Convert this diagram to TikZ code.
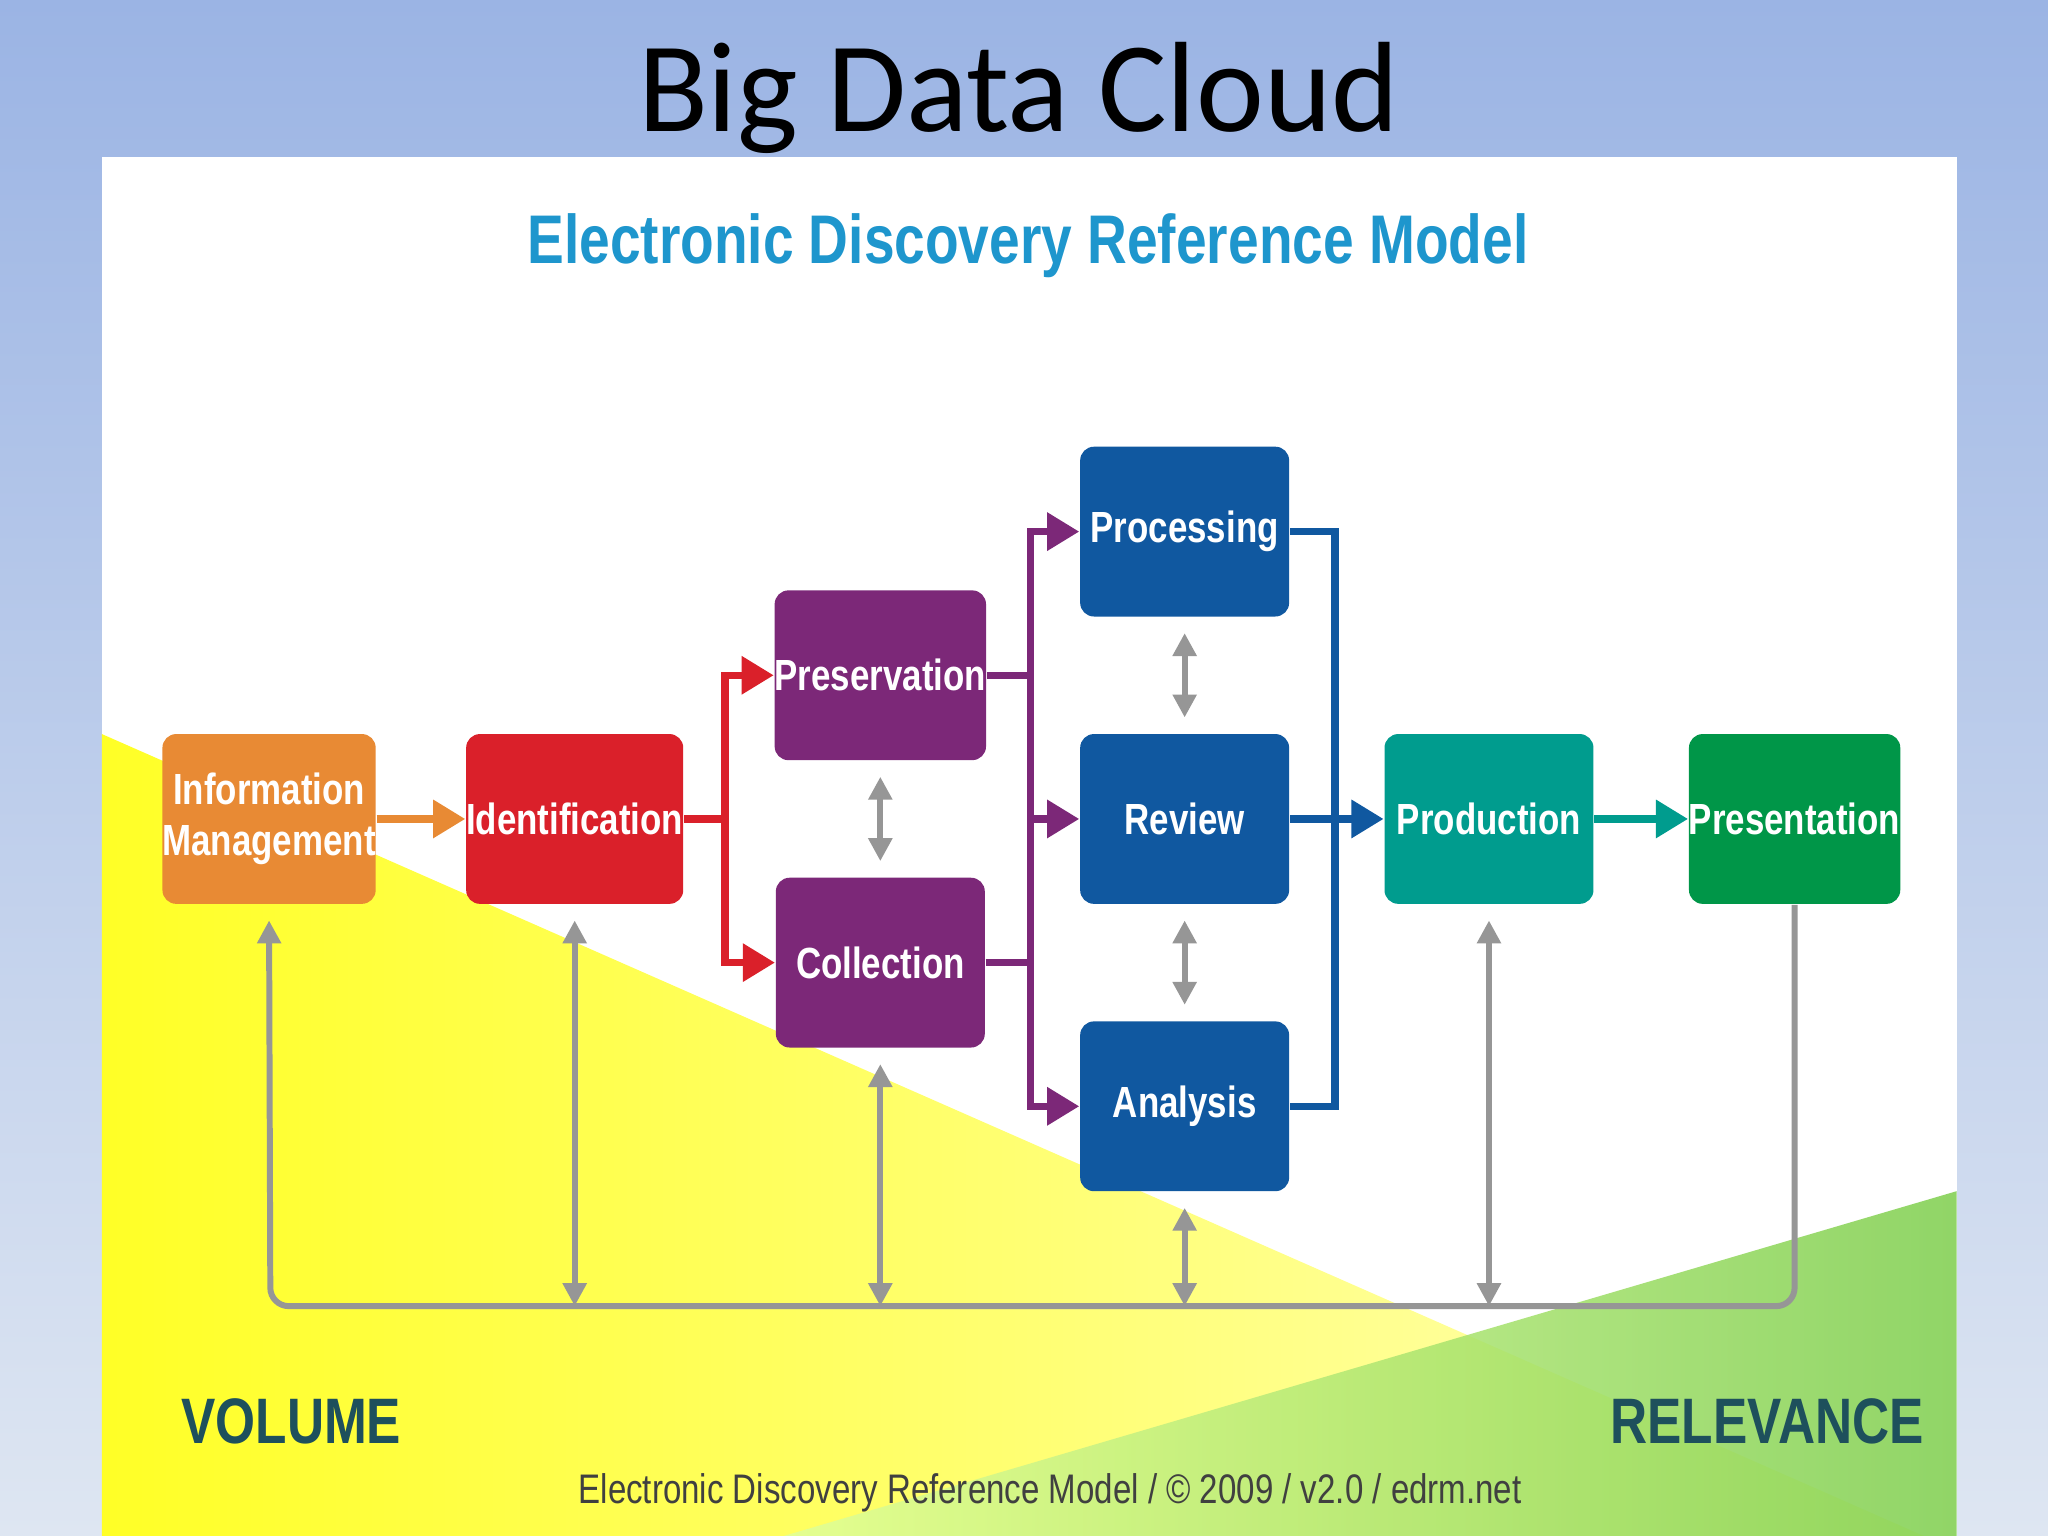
\documentclass[tikz,border=0pt]{standalone}
\usepackage{fontspec}
\setmainfont{Liberation Sans}
\newfontfamily\cond[FakeStretch=0.8]{Liberation Sans}
\newfontfamily\calib{Carlito}
\usetikzlibrary{arrows.meta}
\definecolor{bgtop}{RGB}{155,180,228}
\definecolor{bgbot}{RGB}{222,230,242}
\definecolor{cOr}{RGB}{232,138,52}
\definecolor{cRd}{RGB}{218,32,42}
\definecolor{cPu}{RGB}{124,40,120}
\definecolor{cBl}{RGB}{16,88,160}
\definecolor{cTe}{RGB}{0,156,142}
\definecolor{cGn}{RGB}{0,150,72}
\definecolor{cTitle}{RGB}{30,150,205}
\definecolor{cDark}{RGB}{30,80,92}
\definecolor{cGr}{RGB}{150,150,150}
\begin{document}
\begin{tikzpicture}[x=0.1mm,y=-0.1mm,
  box/.style={rounded corners=3pt,minimum width=16mm,minimum height=13mm,inner sep=0pt,
     text=white,font=\cond\bfseries\fontsize{9.5}{11}\selectfont,align=center},
  fl/.style={line width=1.6pt,-{Triangle[length=7pt,width=8pt]}},
  gl/.style={line width=1.3pt,cGr},
  ga/.style={gl,{Triangle[length=5pt,width=5pt]}-{Triangle[length=5pt,width=5pt]}}]
\useasboundingbox (0,0) rectangle (1568,1176);
\shade[top color=bgtop,bottom color=bgbot] (0,0) rectangle (1568,1176);
\fill[white] (78,120) rectangle (1498,1176);
\shade[left color=yellow!85!white,right color=yellow!25!white] (78,562) -- (1498,1187) -- (1498,1176) -- (78,1176) -- cycle;
\shade[left color=yellow!70!green!40!white,right color=green!45!olive!70!white,opacity=0.85] (1498,912) -- (1498,1176) -- (600,1176) -- cycle;
\node[font=\calib\fontsize{28}{32}\selectfont] (t) at (780,75) {Big Data Cloud};
\node[font=\cond\bfseries\fontsize{15}{18}\selectfont,text=cTitle] (st) at (787,188) {Electronic Discovery Reference Model};
\node[box,fill=cOr] (im) at (206,627) {Information\\Management};
\node[box,fill=cRd] (id) at (440,627) {Identification};
\node[box,fill=cPu] (pr) at (674,517) {Preservation};
\node[box,fill=cPu] (co) at (674,737) {Collection};
\node[box,fill=cBl] (ps) at (907,407) {Processing};
\node[box,fill=cBl] (rv) at (907,627) {Review};
\node[box,fill=cBl] (an) at (907,847) {Analysis};
\node[box,fill=cTe] (pd) at (1140,627) {Production};
\node[box,fill=cGn] (pt) at (1374,627) {Presentation};
% flow
\draw[fl,cOr] (im) -- (id);
\draw[line width=1.6pt,cRd] (id.east) -- (555,627);
\draw[fl,cRd] (555,627) |- (pr.west);
\draw[fl,cRd] (555,627) |- (co.west);
\draw[line width=1.6pt,cPu] (pr.east) -- (789,517) (co.east) -- (789,737);
\draw[fl,cPu] (789,627) |- (ps.west);
\draw[fl,cPu] (789,627) -- (rv.west);
\draw[fl,cPu] (789,627) |- (an.west);
\draw[line width=1.6pt,cBl] (ps.east) -| (1022,847) -- (an.east);
\draw[fl,cBl] (rv.east) -- (pd.west);
\draw[fl,cTe] (pd) -- (pt);
% grey
\draw[ga] ([yshift=-1.2mm]pr.south) -- ([yshift=1.2mm]co.north);
\draw[ga] ([yshift=-1.2mm]ps.south) -- ([yshift=1.2mm]rv.north);
\draw[ga] ([yshift=-1.2mm]rv.south) -- ([yshift=1.2mm]an.north);
\coordinate (b1) at (207,1000);
\coordinate (b2) at (1374,1000);
\draw[gl,rounded corners=4pt,-{Triangle[length=5pt,width=5pt]}] (pt.south) -- (b2) -- (b1) -- ([yshift=-1.2mm]im.south);
\draw[ga] ([yshift=-1.2mm]id.south) -- (440,1000);
\draw[ga] ([yshift=-1.2mm]co.south) -- (674,1000);
\draw[ga] ([yshift=-1.2mm]an.south) -- (907,1000);
\draw[ga] ([yshift=-1.2mm]pd.south) -- (1140,1000);
\node[font=\cond\bfseries\fontsize{14}{16}\selectfont,text=cDark] (vo) at (223,1088) {VOLUME};
\node[font=\cond\bfseries\fontsize{14}{16}\selectfont,text=cDark] (re) at (1353,1088) {RELEVANCE};
\node[font=\cond\fontsize{9}{11}\selectfont,text=black!75] (ft) at (804,1143) {Electronic Discovery Reference Model / \textcopyright\ 2009 / v2.0 / edrm.net};
\end{tikzpicture}
\end{document}
